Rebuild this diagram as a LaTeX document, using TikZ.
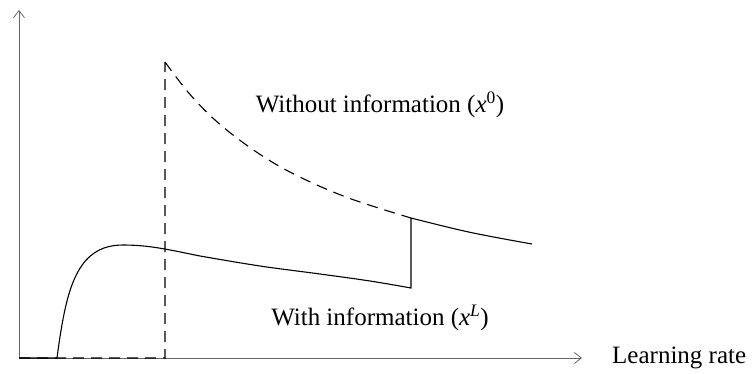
\documentclass[tikz,border=0pt]{standalone}
\usepackage{fontspec}
\setmainfont{Liberation Serif}
\usetikzlibrary{arrows.meta}
\begin{document}
\begin{tikzpicture}[x=1pt,y=-1pt,
  axisline/.style={line width=0.7pt,black!60,-{Straight Barb[length=7pt,width=11pt,line width=0.8pt]}},
  curve/.style={line width=1.1pt,black},
  dashedcurve/.style={curve,dash pattern=on 11pt off 7pt},
  lbl/.style={font=\fontsize{25}{29}\selectfont,inner sep=0pt}]
\useasboundingbox (0,0) rectangle (755,373);
% axes
\coordinate (origin) at (19,358);
\coordinate (ytop) at (19,10);
\coordinate (xend) at (582,358);
\draw[axisline] (origin) -- (ytop);
\draw[axisline] (origin) -- (xend);
\node[lbl,anchor=west] (xlabel) at (612,358) {Learning rate};
% without information: zero, jump, then decay
\coordinate (jumpA) at (165,358);
\coordinate (peakA) at (165,62);
\coordinate (meetA) at (411,218);
\draw[dashedcurve] (origin) -- (jumpA) -- (peakA)
  plot[smooth,tension=0.6] coordinates {(165,62) (190,94.4) (220,124.4) (260,154.4) (300,177.1) (350,198.5) (411,218)};
% with information: rise, slow decay, jump up to the other curve
\coordinate (riseB) at (57,358);
\coordinate (dropB) at (411,288);
\coordinate (endB) at (532,244);
\draw[curve] (origin) -- (riseB)
  .. controls (66,290) and (76,245) .. (123,245)
  .. controls (150,245) and (170,250) .. (200,256)
  plot[smooth,tension=0.6] coordinates {(200,256) (260,266) (320,274) (370,281) (411,288)}
  -- (meetA)
  plot[smooth,tension=0.6] coordinates {(411,218) (470,232.3) (532,244)};
\node[lbl] (without) at (380,105) {Without information (\textit{x}\textsuperscript{0})};
\node[lbl] (with) at (380,318) {With information (\textit{x}\textsuperscript{\textit{L}})};
\end{tikzpicture}
\end{document}
